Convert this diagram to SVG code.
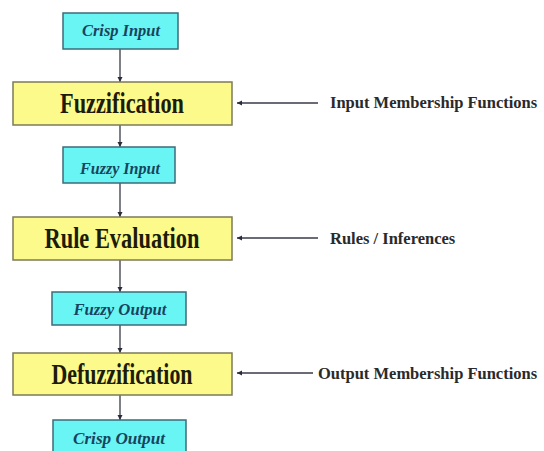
<svg xmlns="http://www.w3.org/2000/svg" width="544" height="451" viewBox="0 0 544 451">
<style>
.cy{fill:#6af5f5;stroke:#3d6b78;stroke-width:1.5}
.ye{fill:#fbfa8a;stroke:#7d7a5a;stroke-width:1.5}
.ct{font-family:"Liberation Serif","Times New Roman",serif;font-weight:bold;font-style:italic;font-size:16px;fill:#17445e;text-anchor:middle}
.yt{font-family:"Liberation Serif","Times New Roman",serif;font-weight:bold;font-size:29px;fill:#1c1c08;text-anchor:middle}
.rt{font-family:"Liberation Serif","Times New Roman",serif;font-weight:bold;font-size:16.5px;fill:#2a2a2a}
.cn{stroke:#3a3a48;stroke-width:1.3;fill:none}
</style>
<defs>
<marker id="ah" markerUnits="userSpaceOnUse" markerWidth="6" markerHeight="6" refX="5" refY="3" orient="auto">
<path d="M0,0.5 L5,3 L0,5.5 Z" fill="#2a2a3a"/>
</marker>
</defs>
<rect width="544" height="451" fill="#ffffff"/>
<g id="connectors">
<line class="cn" x1="120" y1="49" x2="120" y2="82" marker-end="url(#ah)"/>
<line class="cn" x1="120" y1="125" x2="120" y2="147" marker-end="url(#ah)"/>
<line class="cn" x1="120" y1="183" x2="120" y2="217" marker-end="url(#ah)"/>
<line class="cn" x1="120" y1="260" x2="120" y2="292" marker-end="url(#ah)"/>
<line class="cn" x1="120" y1="325" x2="120" y2="353" marker-end="url(#ah)"/>
<line class="cn" x1="120" y1="395" x2="120" y2="420" marker-end="url(#ah)"/>
<line class="cn" x1="318" y1="103" x2="237" y2="103" marker-end="url(#ah)"/>
<line class="cn" x1="318" y1="238" x2="237" y2="238" marker-end="url(#ah)"/>
<line class="cn" x1="313" y1="373" x2="237" y2="373" marker-end="url(#ah)"/>
</g>
<g id="crisp-input">
<rect class="cy" x="63" y="13" width="115" height="36"/>
<text class="ct" x="121" y="36" textLength="78" lengthAdjust="spacingAndGlyphs">Crisp Input</text>
</g>
<g id="fuzzification">
<rect class="ye" x="13" y="82" width="219" height="43"/>
<text class="yt" x="122" y="113" textLength="124" lengthAdjust="spacingAndGlyphs">Fuzzification</text>
</g>
<g id="fuzzy-input">
<rect class="cy" x="63" y="147" width="112" height="36"/>
<text class="ct" x="120" y="174" textLength="80" lengthAdjust="spacingAndGlyphs">Fuzzy Input</text>
</g>
<g id="rule-evaluation">
<rect class="ye" x="13" y="217" width="219" height="43"/>
<text class="yt" x="122" y="248" textLength="155" lengthAdjust="spacingAndGlyphs">Rule Evaluation</text>
</g>
<g id="fuzzy-output">
<rect class="cy" x="52" y="292" width="134" height="33"/>
<text class="ct" x="120" y="315" textLength="93" lengthAdjust="spacingAndGlyphs">Fuzzy Output</text>
</g>
<g id="defuzzification">
<rect class="ye" x="13" y="353" width="219" height="42"/>
<text class="yt" x="122" y="384" textLength="141" lengthAdjust="spacingAndGlyphs">Defuzzification</text>
</g>
<g id="crisp-output">
<rect class="cy" x="53" y="420" width="133" height="38"/>
<text class="ct" x="119" y="444" textLength="92" lengthAdjust="spacingAndGlyphs">Crisp Output</text>
</g>
<g id="input-mf">
<text class="rt" x="330" y="108">Input Membership Functions</text>
</g>
<g id="rules">
<text class="rt" x="330" y="244">Rules / Inferences</text>
</g>
<g id="output-mf">
<text class="rt" x="318" y="379">Output Membership Functions</text>
</g>
</svg>
